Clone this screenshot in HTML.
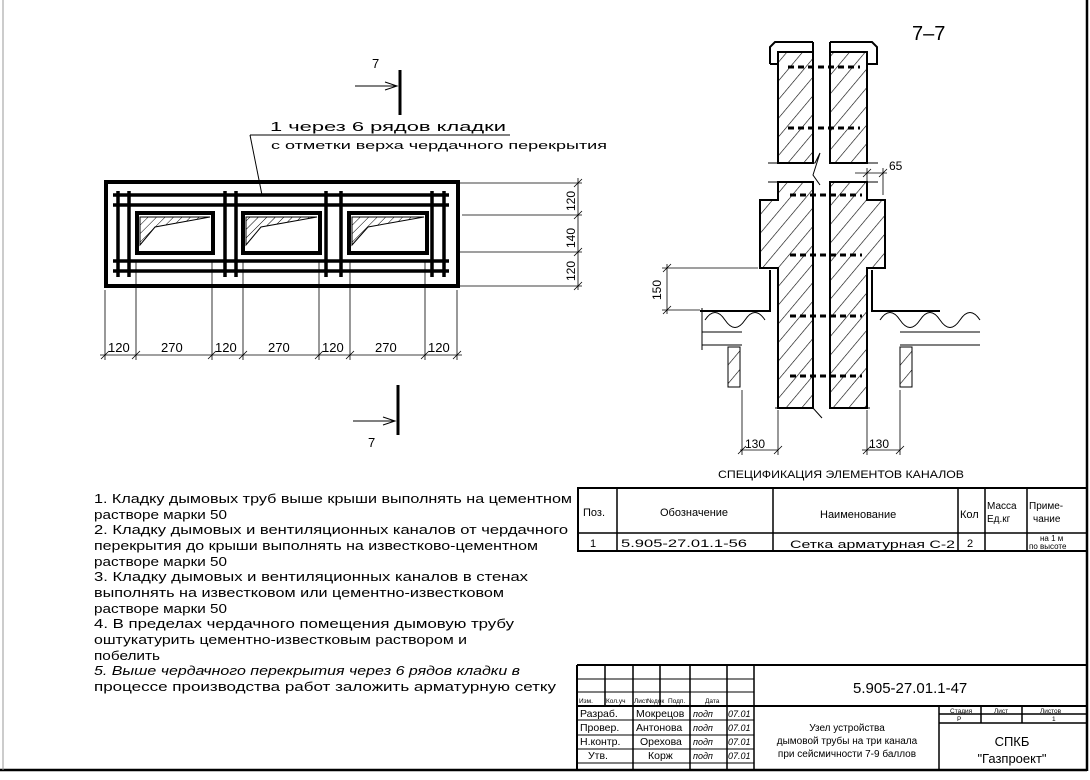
<!DOCTYPE html>
<html><head><meta charset="utf-8"><style>
html,body{margin:0;padding:0;background:#fff}
svg{display:block}
text{font-family:"Liberation Sans",sans-serif;fill:#000}
.t{font-size:13px}
.s{font-size:11px}
</style></head><body>
<svg width="1090" height="780" viewBox="0 0 1090 780" xmlns="http://www.w3.org/2000/svg">
<defs>
<pattern id="h" width="6" height="6" patternUnits="userSpaceOnUse" patternTransform="rotate(45)"><line x1="0" y1="0" x2="0" y2="6" stroke="#000" stroke-width="1"/></pattern>
<pattern id="h2" width="12" height="12" patternUnits="userSpaceOnUse" patternTransform="rotate(40)"><line x1="0" y1="0" x2="0" y2="12" stroke="#000" stroke-width="1.2"/></pattern>
</defs>
<!-- frame -->
<line x1="1087" y1="0" x2="1087" y2="771" stroke="#000" stroke-width="2.5"/>
<line x1="0" y1="770" x2="1087" y2="770" stroke="#000" stroke-width="2.5"/>
<line x1="3" y1="0" x2="3" y2="770" stroke="#999" stroke-width="1"/>

<!-- section marks -->
<g stroke="#000" fill="none">
<line x1="400" y1="70" x2="400" y2="115" stroke-width="3"/>
<line x1="355" y1="86" x2="397" y2="86" stroke-width="1"/>
<path d="M385 82 L397 86 L385 90" stroke-width="1"/>
<line x1="398" y1="385" x2="398" y2="435" stroke-width="3"/>
<line x1="353" y1="421" x2="395" y2="421" stroke-width="1"/>
<path d="M383 417 L395 421 L383 425" stroke-width="1"/>
</g>
<text x="372" y="68" class="t" font-size="15">7</text>
<text x="368" y="447" class="t" font-size="15">7</text>

<!-- leader -->
<text x="270" y="131" class="t" font-size="14" textLength="236" lengthAdjust="spacingAndGlyphs">1 через 6 рядов кладки</text>
<line x1="250" y1="135" x2="510" y2="135" stroke="#000" stroke-width="1"/>
<line x1="250" y1="135" x2="262" y2="195" stroke="#000" stroke-width="1"/>
<text x="271" y="149" class="s" textLength="336" lengthAdjust="spacingAndGlyphs">с отметки верха чердачного перекрытия</text>

<!-- plan -->
<g fill="none" stroke="#000">
<rect x="106" y="182" width="352" height="104" stroke-width="4"/>
<rect x="137" y="213" width="76" height="40" stroke-width="4"/>
<rect x="243" y="213" width="77" height="40" stroke-width="4"/>
<rect x="349" y="213" width="78" height="40" stroke-width="4"/>
<g stroke-width="3.5">
<line x1="113" y1="195" x2="449" y2="195"/><line x1="113" y1="205" x2="449" y2="205"/>
<line x1="113" y1="261" x2="449" y2="261"/><line x1="113" y1="271" x2="449" y2="271"/>
<line x1="118" y1="191" x2="118" y2="277"/><line x1="129" y1="191" x2="129" y2="277"/>
<line x1="225" y1="191" x2="225" y2="277"/><line x1="236" y1="191" x2="236" y2="277"/>
<line x1="326" y1="191" x2="326" y2="277"/><line x1="341" y1="191" x2="341" y2="277"/>
<line x1="432" y1="191" x2="432" y2="277"/><line x1="444" y1="191" x2="444" y2="277"/>
</g>
</g>
<g fill="url(#h)" stroke="#000" stroke-width="1">
<path d="M140 217 L210 217 L155 227 L140 245 Z"/>
<path d="M246 217 L317 217 L261 227 L246 245 Z"/>
<path d="M352 217 L424 217 L368 227 L352 245 Z"/>
</g>
<!-- plan dims -->
<g stroke="#000" stroke-width="0.8" fill="none">
<line x1="100" y1="355" x2="462" y2="355"/>
<path d="M105 290 V360 M136 260 V360 M212 260 V360 M243 260 V360 M319 260 V360 M350 260 V360 M425 260 V360 M457 290 V360"/>
<path d="M101 359 l8 -8 M132 359 l8 -8 M208 359 l8 -8 M239 359 l8 -8 M315 359 l8 -8 M346 359 l8 -8 M421 359 l8 -8 M453 359 l8 -8"/>
<line x1="578" y1="178" x2="578" y2="290"/>
<path d="M460 183 H582 M462 215 H582 M460 252 H582 M460 286 H582"/>
<path d="M574 187 l8 -8 M574 219 l8 -8 M574 256 l8 -8 M574 290 l8 -8"/>
</g>
<g class="t" font-size="13">
<text x="108" y="352">120</text><text x="161" y="352">270</text><text x="215" y="352">120</text><text x="268" y="352">270</text>
<text x="322" y="352">120</text><text x="375" y="352">270</text><text x="428" y="352">120</text>
</g>
<g font-size="12">
<text transform="translate(575,211) rotate(-90)">120</text>
<text transform="translate(575,248) rotate(-90)">140</text>
<text transform="translate(575,281) rotate(-90)">120</text>
</g>

<!-- section 7-7 -->
<text x="912" y="40" font-size="20">7–7</text>
<g stroke="#000" stroke-width="2">
<path d="M770 64 V47 L775 42 H813 M830 42 H872 L877 47 V64 H867 M770 64 H778 M813 64 V42 M830 64 V42" fill="none"/>
<rect x="778" y="52" width="35" height="111" fill="url(#h2)"/>
<rect x="830" y="52" width="37" height="111" fill="url(#h2)"/>
<path d="M778 182 V200 H760 V268 H778 V408 H813 V182 Z" fill="url(#h2)"/>
<path d="M830 182 V408 H867 V268 H885 V200 H867 V182 Z" fill="url(#h2)"/>
</g>
<g stroke="#000" stroke-width="1" fill="none">
<path d="M768 163 H815 L820 153 L813 175 L820 185 M830 163 H878"/>
<path d="M768 182 H813 M830 182 H878"/>
<path d="M775 408 H813 L822 418 M830 408 H870"/>
</g>
<g stroke="#000" stroke-width="3" stroke-dasharray="6,4">
<line x1="788" y1="67" x2="860" y2="67"/><line x1="788" y1="128" x2="860" y2="128"/>
<line x1="790" y1="195" x2="862" y2="195"/><line x1="790" y1="255" x2="862" y2="255"/>
<line x1="790" y1="316" x2="862" y2="316"/><line x1="790" y1="376" x2="862" y2="376"/>
</g>
<g stroke="#000" fill="none">
<path d="M700 311 H770 V270" stroke-width="2"/>
<path d="M872 270 V311 H940" stroke-width="2"/>
<path d="M705 320 q10 -15 20 0 t20 0 t20 0 M880 320 q10 -15 20 0 t20 0 t20 0 t20 0 t20 0" stroke-width="1"/>
<path d="M702 332 H742 M702 345 H742 M702 308 V350 M900 332 H980 M900 345 H980" stroke-width="1"/>
<rect x="728" y="347" width="12" height="40" fill="url(#h2)" stroke-width="1"/>
<rect x="900" y="347" width="12" height="40" fill="url(#h2)" stroke-width="1"/>
<g stroke-width="0.8">
<path d="M662 268 H758 M662 310 H700 M667 264 V314 M663 272 l8 -8 M663 314 l8 -8"/>
<path d="M740 450 H778 M742 390 V455 M778 410 V455 M738 454 l8 -8 M774 454 l8 -8"/>
<path d="M862 450 H900 M867 410 V455 M900 390 V455 M863 454 l8 -8 M896 454 l8 -8"/>
<path d="M855 173 H887 M867 168 V195 M883 168 V195 M863 177 l8 -8 M879 177 l8 -8"/>
</g>
</g>
<text x="889" y="170" font-size="12">65</text>
<text transform="translate(661,300) rotate(-90)" font-size="12">150</text>
<text x="745" y="448" font-size="12">130</text>
<text x="869" y="448" font-size="12">130</text>

<!-- spec -->
<text x="718" y="478" class="s" textLength="246" lengthAdjust="spacingAndGlyphs">СПЕЦИФИКАЦИЯ ЭЛЕМЕНТОВ КАНАЛОВ</text>
<g stroke="#000" fill="none">
<rect x="578" y="488" width="509" height="63" stroke-width="2"/>
<line x1="578" y1="533" x2="1087" y2="533" stroke-width="1.5"/>
<path d="M617 488 V551 M773 488 V551 M958 488 V551 M985 488 V551 M1027 488 V551" stroke-width="1.5"/>
</g>
<g font-size="11">
<text x="583" y="516">Поз.</text>
<text x="660" y="516">Обозначение</text>
<text x="820" y="518">Наименование</text>
<text x="960" y="518">Кол</text>
<text x="987" y="509" font-size="10">Масса</text>
<text x="987" y="522" font-size="10">Ед.кг</text>
<text x="1029" y="509" font-size="10">Приме-</text>
<text x="1033" y="522" font-size="10">чание</text>
<text x="590" y="547">1</text>
<text x="621" y="547" textLength="126" lengthAdjust="spacingAndGlyphs">5.905-27.01.1-56</text>
<text x="790" y="548" textLength="165" lengthAdjust="spacingAndGlyphs">Сетка арматурная С-2</text>
<text x="967" y="547">2</text>
<text x="1040" y="541" font-size="8">на 1 м</text>
<text x="1029" y="549" font-size="8">по высоте</text>
</g>

<!-- notes -->
<g class="t" font-size="12.5">
<text x="94" y="503" textLength="478" lengthAdjust="spacingAndGlyphs">1. Кладку дымовых труб выше крыши выполнять на цементном</text>
<text x="94" y="519" textLength="133" lengthAdjust="spacingAndGlyphs">растворе марки 50</text>
<text x="94" y="534" textLength="474" lengthAdjust="spacingAndGlyphs">2. Кладку дымовых и вентиляционных каналов от чердачного</text>
<text x="94" y="550" textLength="444" lengthAdjust="spacingAndGlyphs">перекрытия до крыши выполнять на известково-цементном</text>
<text x="94" y="566" textLength="133" lengthAdjust="spacingAndGlyphs">растворе марки 50</text>
<text x="94" y="581" textLength="434" lengthAdjust="spacingAndGlyphs">3. Кладку дымовых и вентиляционных каналов в стенах</text>
<text x="94" y="597" textLength="410" lengthAdjust="spacingAndGlyphs">выполнять на известковом или цементно-известковом</text>
<text x="94" y="613" textLength="133" lengthAdjust="spacingAndGlyphs">растворе марки 50</text>
<text x="94" y="628" textLength="420" lengthAdjust="spacingAndGlyphs">4. В пределах чердачного помещения дымовую трубу</text>
<text x="94" y="644" textLength="373" lengthAdjust="spacingAndGlyphs">оштукатурить цементно-известковым раствором и</text>
<text x="94" y="660" textLength="66" lengthAdjust="spacingAndGlyphs">побелить</text>
<text x="94" y="675" textLength="426" lengthAdjust="spacingAndGlyphs" font-style="italic">5. Выше чердачного перекрытия через 6 рядов кладки в</text>
<text x="94" y="691" textLength="462" lengthAdjust="spacingAndGlyphs">процессе производства работ заложить арматурную сетку</text>
</g>

<!-- title block -->
<g stroke="#000" fill="none">
<line x1="577" y1="665" x2="1087" y2="665" stroke-width="2"/>
<line x1="577" y1="665" x2="577" y2="770" stroke-width="2"/>
<path d="M577 679 H754 M577 692 H754 M577 720 H754 M577 735 H754 M577 749 H754 M577 763 H754" stroke-width="1"/>
<path d="M577 706 H1087" stroke-width="2"/>
<path d="M605 665 V706 M633 665 V770 M660 665 V706 M690 665 V770 M727 665 V770 M754 665 V770" stroke-width="1.5"/>
<path d="M939 706 V770 M939 714 H1087 M939 723 H1087 M981 706 V723 M1022 706 V723" stroke-width="1.5"/>
</g>
<g font-size="6.5">
<text x="579" y="703">Изм.</text><text x="606" y="703">Кол.уч</text><text x="634" y="703">Лист</text><text x="647" y="703">№док</text>
<text x="668" y="703">Подп.</text><text x="705" y="703">Дата</text>
<text x="950" y="713">Стадия</text><text x="994" y="713">Лист</text><text x="1040" y="713">Листов</text>
<text x="957" y="721">Р</text><text x="1052" y="721">1</text>
</g>
<g font-size="10.5">
<text x="580" y="717">Разраб.</text><text x="636" y="717">Мокрецов</text>
<text x="580" y="731">Провер.</text><text x="636" y="731">Антонова</text>
<text x="580" y="745">Н.контр.</text><text x="640" y="745">Орехова</text>
<text x="588" y="759">Утв.</text><text x="648" y="759">Корж</text>
</g>
<g font-size="9" font-style="italic">
<text x="693" y="717">подп</text><text x="728" y="717">07.01</text>
<text x="693" y="731">подп</text><text x="728" y="731">07.01</text>
<text x="693" y="745">подп</text><text x="728" y="745">07.01</text>
<text x="693" y="759">подп</text><text x="728" y="759">07.01</text>
</g>
<text x="853" y="693" font-size="15">5.905-27.01.1-47</text>
<g font-size="10" text-anchor="middle">
<text x="847" y="731">Узел устройства</text>
<text x="847" y="744">дымовой трубы на три канала</text>
<text x="847" y="757">при сейсмичности 7-9 баллов</text>
</g>
<g font-size="13" text-anchor="middle">
<text x="1012" y="746">СПКБ</text>
<text x="1012" y="763">"Газпроект"</text>
</g>
</svg>
</body></html>
